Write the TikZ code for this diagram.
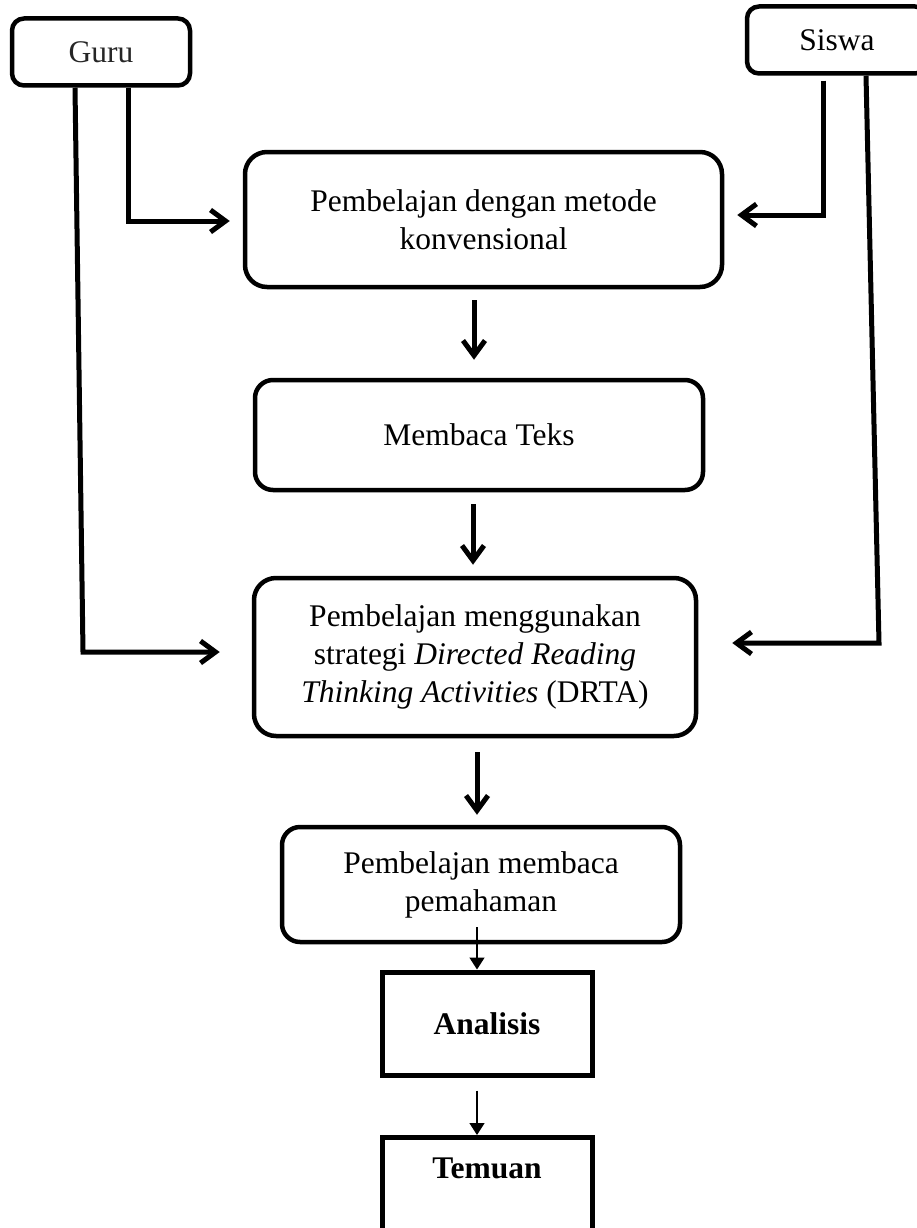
\documentclass[tikz,border=0pt]{standalone}
\usepackage{fontspec}
\setmainfont{Liberation Serif}
\usetikzlibrary{arrows.meta}
\tikzset{
  rbox/.style={draw, line width=4.5pt, rounded corners=18pt, inner sep=0pt, align=center,
    font=\fontsize{31.5}{38}\selectfont},
  sbox/.style={draw, line width=5pt, inner sep=0pt, align=center,
    font=\fontsize{31.5}{38}\selectfont\bfseries},
  conn/.style={line width=5pt, -{Straight Barb[length=15pt,width=22pt]}},
  thin/.style={line width=1.5pt, -{Triangle[length=12pt,width=15pt]}},
}
\begin{document}
\begin{tikzpicture}[x=1pt,y=-1pt]
\useasboundingbox (0,0) rectangle (917,1228);

\node[rbox, rounded corners=12pt, minimum width=178pt, minimum height=67pt, text=black!85] (guru) at (101,52) {Guru};
\node[rbox, rounded corners=12pt, minimum width=180pt, minimum height=67pt] (siswa) at (837,40) {Siswa};

\node[rbox, rounded corners=22pt, minimum width=477pt, minimum height=135pt] (b1) at (483.5,219.5) {Pembelajan dengan metode\\konvensional};
\node[rbox, minimum width=448pt, minimum height=110pt] (b2) at (479,435) {Membaca Teks};
\node[rbox, rounded corners=22pt, minimum width=442pt, minimum height=158pt] (b3) at (475,657) {Pembelajan menggunakan\\strategi \textit{Directed Reading}\\\textit{Thinking Activities} (DRTA)};
\node[rbox, minimum width=398pt, minimum height=115pt] (b4) at (481,884.5) {Pembelajan membaca\\pemahaman};

\node[sbox, minimum width=210pt, minimum height=103pt] (an) at (487,1023.5) {Analisis};
\node[sbox, minimum width=210pt, minimum height=105pt, anchor=north] (tem) at (487,1135) {};
\node[font=\fontsize{31.5}{38}\selectfont\bfseries, inner sep=0pt] (temt) at (487,1168) {Temuan};

\coordinate (gl) at (83,652);
\coordinate (sl) at (879,643);

\draw[conn] ([xshift=27pt]guru.south) |- ([xshift=-13pt,yshift=-1.5pt]b1.west);
\draw[conn] ([xshift=-26pt]guru.south) -- (gl) -- ([xshift=-32pt,yshift=5pt]b3.west);
\draw[conn] ([xshift=-14pt,yshift=-5pt]siswa.south) |- ([xshift=13pt,yshift=4.5pt]b1.east);
\draw[conn] ([xshift=29pt]siswa.south) -- (sl) -- ([xshift=34pt,yshift=14pt]b3.east);

\draw[conn] ([xshift=-9.5pt,yshift=-11pt]b1.south) -- ([xshift=-5pt,yshift=18pt]b2.north);
\draw[conn] ([xshift=-6pt,yshift=-12pt]b2.south) -- ([xshift=-2pt,yshift=11pt]b3.north);
\draw[conn] ([xshift=2pt,yshift=-14pt]b3.south) -- ([xshift=-4pt,yshift=10pt]b4.north);

\draw[thin] ([xshift=-4pt,yshift=17pt]b4.south) -- ([xshift=-10pt]an.north);
\draw[thin] ([xshift=-10pt,yshift=-13pt]an.south) -- ([xshift=-10pt]tem.north);
\end{tikzpicture}
\end{document}
